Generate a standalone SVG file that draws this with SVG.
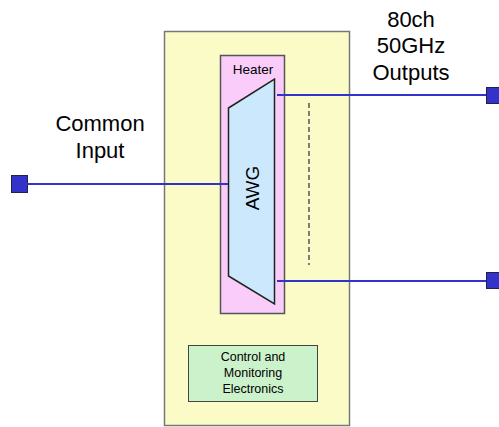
<svg xmlns="http://www.w3.org/2000/svg" width="499" height="427" viewBox="0 0 499 427">
<style>
.lbl{font-family:"Liberation Sans",Arial,sans-serif;fill:#000;text-anchor:middle}
.big{font-size:22px}
.sm{font-size:12.5px}
.conn{stroke:#3333cc;stroke-width:2;fill:none}
.port{fill:#3333cc;stroke:#222244;stroke-width:1}
</style>
<rect width="499" height="427" fill="#fff"/>
<g id="package">
<rect x="164.5" y="31.5" width="185" height="394" fill="#fbfbc8" stroke="#777" stroke-width="1.5"/>
</g>
<g id="heater">
<rect x="220.5" y="55.5" width="64" height="258" fill="#f9ccf9" stroke="#555" stroke-width="1.5"/>
<text class="lbl" font-size="13.5" x="253" y="74">Heater</text>
</g>
<g id="awg">
<polygon points="228.5,108 274.5,79 274.5,304 228.5,276" fill="#cce8fc" stroke="#222" stroke-width="1.5"/>
<text class="lbl" font-size="19" transform="translate(259,188) rotate(-90)">AWG</text>
</g>
<g id="channels">
<line x1="309" y1="103" x2="309" y2="265" stroke="#555" stroke-width="1.5" stroke-dasharray="5,3"/>
</g>
<g id="control">
<rect x="188.5" y="345.5" width="129" height="56" fill="#ccf2cc" stroke="#444" stroke-width="1"/>
<text class="lbl sm" x="253" y="361">Control and</text>
<text class="lbl sm" x="253" y="377">Monitoring</text>
<text class="lbl sm" x="253" y="393">Electronics</text>
</g>
<g id="input">
<rect class="port" x="11.5" y="175.5" width="16" height="17"/>
<text class="lbl big" x="100" y="131">Common</text>
<text class="lbl big" x="100" y="158">Input</text>
</g>
<g id="output1">
<rect class="port" x="486.5" y="87.5" width="16" height="16"/>
</g>
<g id="output2">
<rect class="port" x="486.5" y="272.5" width="16" height="16"/>
</g>
<g id="outputs-label">
<text class="lbl big" x="411" y="27">80ch</text>
<text class="lbl big" x="411" y="53">50GHz</text>
<text class="lbl big" x="411" y="80">Outputs</text>
</g>
<g id="connectors">
<line class="conn" x1="27" y1="184" x2="228" y2="184"/>
<line class="conn" x1="277" y1="95" x2="486" y2="95"/>
<line class="conn" x1="277" y1="281" x2="486" y2="281"/>
</g>
</svg>
